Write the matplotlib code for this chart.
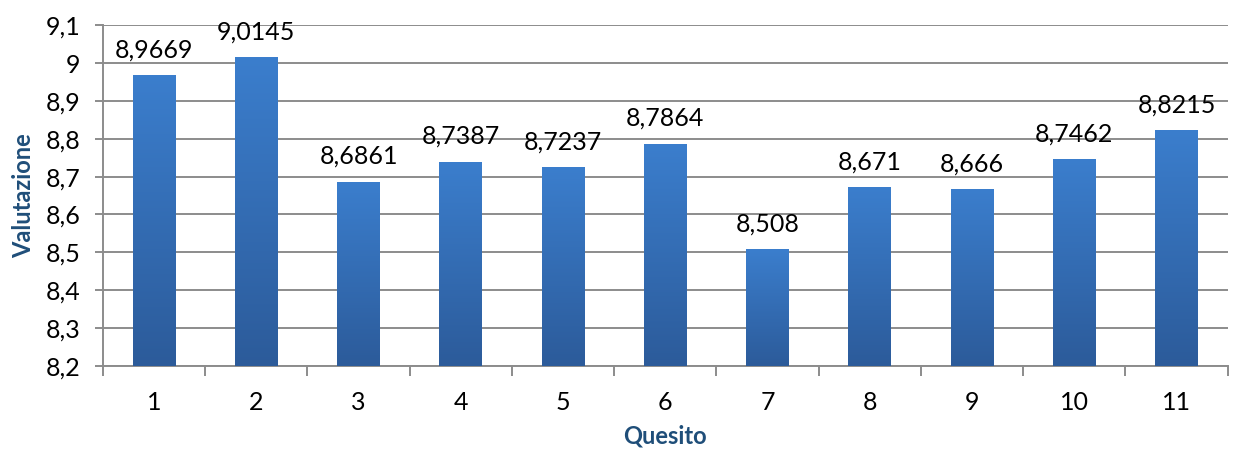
import matplotlib.pyplot as plt
import numpy as np
from matplotlib.colors import LinearSegmentedColormap

plt.rcParams['font.family'] = ['Lato', 'DejaVu Sans']

quesiti = ['1', '2', '3', '4', '5', '6', '7', '8', '9', '10', '11']
valori = [8.9669, 9.0145, 8.6861, 8.7387, 8.7237, 8.7864, 8.508, 8.671, 8.666, 8.7462, 8.8215]
etichette = ['8,9669', '9,0145', '8,6861', '8,7387', '8,7237', '8,7864', '8,508', '8,671', '8,666', '8,7462', '8,8215']
y_ticks = [8.2, 8.3, 8.4, 8.5, 8.6, 8.7, 8.8, 8.9, 9.0, 9.1]
y_tick_labels = ['8,2', '8,3', '8,4', '8,5', '8,6', '8,7', '8,8', '8,9', '9', '9,1']

fig = plt.figure(figsize=(12.36, 4.5), dpi=100)
ax = fig.add_axes([0.0833, 0.187, 0.910, 0.757])

x = np.arange(len(quesiti))
bars = ax.bar(x, valori, width=0.42, color='none', edgecolor='none', zorder=3)

# gradient fill for each bar (light at top, dark at bottom)
cmap = LinearSegmentedColormap.from_list('blu', ['#2C5B9A', '#3B7ECD'])
grad = np.linspace(0, 1, 256).reshape(-1, 1)
for b in bars:
    x0 = b.get_x()
    w = b.get_width()
    top = b.get_height()
    ax.imshow(grad, cmap=cmap, origin='lower', aspect='auto',
              extent=[x0, x0 + w, 8.2, top], zorder=3)

for xi, v, lab in zip(x, valori, etichette):
    ax.annotate(lab, (xi, v), xytext=(0, 10), textcoords='offset points',
                ha='center', va='bottom', fontsize=18, color='#000000', zorder=4)

ax.set_xlim(-0.5, len(quesiti) - 0.5)
ax.set_ylim(8.2, 9.1)
ax.set_yticks(y_ticks)
ax.set_yticklabels(y_tick_labels)
ax.set_xticks(x)
ax.set_xticklabels(quesiti)
ax.set_xticks(np.arange(-0.5, len(quesiti)), minor=True)

ax.grid(axis='y', color='#8C8C8C', linewidth=1.4, zorder=0)
ax.set_axisbelow(True)
for s in ['top', 'right']:
    ax.spines[s].set_visible(False)
for s in ['left', 'bottom']:
    ax.spines[s].set_color('#8C8C8C')
    ax.spines[s].set_linewidth(1.4)

ax.tick_params(axis='y', length=6, width=1.4, color='#8C8C8C', labelsize=18, pad=10)
ax.tick_params(axis='x', which='major', length=0, labelsize=18, pad=18)
ax.tick_params(axis='x', which='minor', length=7, width=1.4, color='#8C8C8C')

ax.set_xlabel('Quesito', fontsize=17, fontweight='bold', color='#1F4E79', labelpad=8)
ax.set_ylabel('Valutazione', fontsize=17, fontweight='bold', color='#1F4E79', labelpad=8)

fig.savefig('out.png', dpi=100)
